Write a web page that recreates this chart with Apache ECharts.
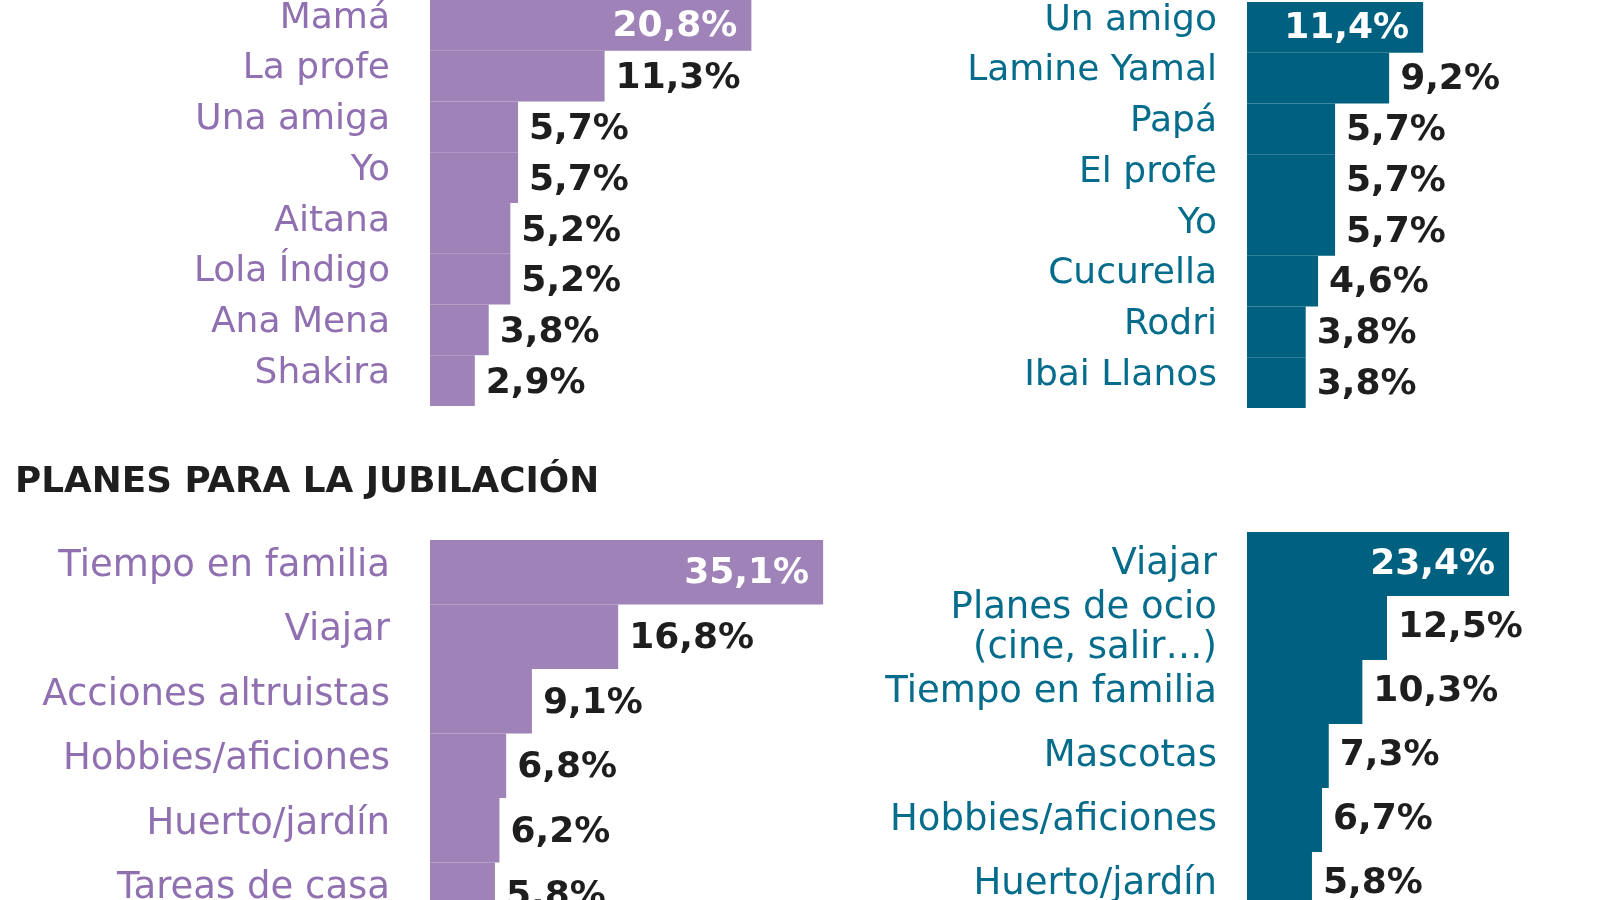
<!DOCTYPE html>
<html>
<head>
<meta charset="utf-8">
<script src="https://cdn.jsdelivr.net/npm/echarts@6/dist/echarts.min.js"></script>
<style>
html,body{margin:0;padding:0;background:#ffffff;}
#chart{width:1600px;height:900px;}
</style>
</head>
<body>
<div id="chart"></div>
<script>
// ---- DATA ----
const topLeftCategories = ['Mamá', 'La profe', 'Una amiga', 'Yo', 'Aitana', 'Lola Índigo', 'Ana Mena', 'Shakira'];
const topLeftValues = [20.8, 11.3, 5.7, 5.7, 5.2, 5.2, 3.8, 2.9];

const topRightCategories = ['Un amigo', 'Lamine Yamal', 'Papá', 'El profe', 'Yo', 'Cucurella', 'Rodri', 'Ibai Llanos'];
const topRightValues = [11.4, 9.2, 5.7, 5.7, 5.7, 4.6, 3.8, 3.8];

const sectionTitle = 'PLANES PARA LA JUBILACIÓN';

const bottomLeftCategories = ['Tiempo en familia', 'Viajar', 'Acciones altruistas', 'Hobbies/aficiones', 'Huerto/jardín', 'Tareas de casa'];
const bottomLeftValues = [35.1, 16.8, 9.1, 6.8, 6.2, 5.8];

const bottomRightCategories = ['Viajar', 'Planes de ocio\n(cine, salir…)', 'Tiempo en familia', 'Mascotas', 'Hobbies/aficiones', 'Huerto/jardín'];
const bottomRightValues = [23.4, 12.5, 10.3, 7.3, 6.7, 5.8];

// ---- STYLE ----
const PURPLE_BAR = '#9e82b8';
const PURPLE_TEXT = '#9070b1';
const TEAL_BAR = '#00607f';
const TEAL_TEXT = '#066c8c';
const DARK = '#1e1e1e';
const FONT = '"DejaVu Sans", sans-serif';

const fmt = v => v.toFixed(1).replace('.', ',') + '%';

// catShift: how many px the category label sits above the bar centre
const panels = [
  { cats: topLeftCategories, vals: topLeftValues, bar: PURPLE_BAR, text: PURPLE_TEXT,
    left: 430, top: 0, width: 386.25, height: 406, max: 25, margin: 40, fontSize: 36, catShift: 7, valShift: 3 },
  { cats: topRightCategories, vals: topRightValues, bar: TEAL_BAR, text: TEAL_TEXT,
    left: 1247, top: 2, width: 309, height: 406, max: 20, margin: 30, fontSize: 36, catShift: 7, valShift: 2 },
  { cats: bottomLeftCategories, vals: bottomLeftValues, bar: PURPLE_BAR, text: PURPLE_TEXT,
    left: 430, top: 540, width: 448, height: 387, max: 40, margin: 40, fontSize: 37, catShift: 6, valShift: 2 },
  { cats: bottomRightCategories, vals: bottomRightValues, bar: TEAL_BAR, text: TEAL_TEXT,
    left: 1247, top: 532, width: 336, height: 384, max: 30, margin: 30, fontSize: 37, catShift: 0, valShift: 0 }
];

const grid = [], xAxis = [], yAxis = [], series = [];
panels.forEach((p, i) => {
  grid.push({ left: p.left, top: p.top, width: p.width, height: p.height,
              containLabel: false, outerBoundsMode: 'none' });
  xAxis.push({ type: 'value', gridIndex: i, min: 0, max: p.max, show: false });
  const shifted = p.catShift > 0;
  yAxis.push({
    type: 'category', gridIndex: i, data: p.cats, inverse: true,
    axisLine: { show: false }, axisTick: { show: false }, splitLine: { show: false },
    axisLabel: {
      interval: 0, color: p.text, fontSize: p.fontSize, fontFamily: FONT,
      margin: p.margin, align: 'right',
      verticalAlign: shifted ? 'bottom' : 'middle',
      lineHeight: shifted ? p.catShift * 2 : 40
    }
  });
  series.push({
    type: 'bar', xAxisIndex: i, yAxisIndex: i, barCategoryGap: '0%',
    itemStyle: { color: p.bar },
    label: {
      show: true, position: 'right', distance: 11, color: DARK,
      fontFamily: FONT, fontWeight: 'bold', fontSize: 36,
      offset: [0, p.valShift],
      formatter: o => fmt(o.value)
    },
    data: p.vals.map((v, k) => k === 0
      ? { value: v, label: { position: 'insideRight', distance: 14, color: '#ffffff', offset: [0, 1] } }
      : v),
    animation: false
  });
});

const chart = echarts.init(document.getElementById('chart'), null, { renderer: 'canvas' });
chart.setOption({
  backgroundColor: '#ffffff',
  animation: false,
  title: {
    text: sectionTitle, left: 10, top: 460,
    textStyle: { fontFamily: FONT, fontWeight: 'bold', fontSize: 35.8, color: DARK }
  },
  grid, xAxis, yAxis, series
});
</script>
</body>
</html>
